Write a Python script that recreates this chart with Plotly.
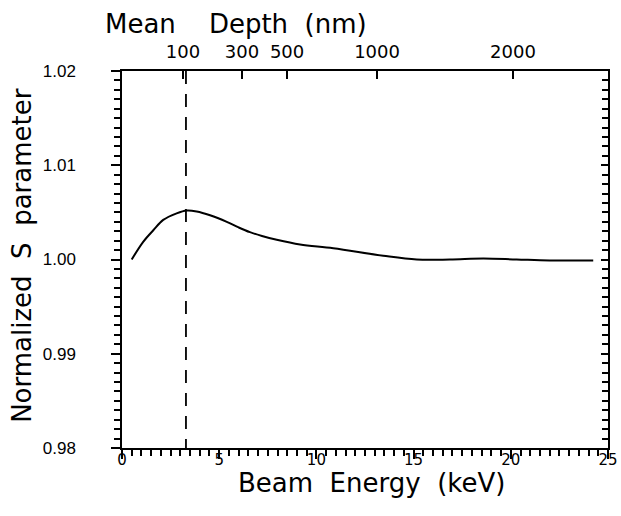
import plotly.graph_objects as go

# ---- data ----
ENERGY_KEV = [0.50, 1.10, 1.61, 2.12, 2.81, 3.33, 3.84, 4.53, 5.39, 6.00, 6.58, 7.20,
              7.96, 9.16, 10.87, 13.44, 15.16, 16.87, 18.59, 20.30, 22.00, 24.24]
S_PARAM = [1.0000, 1.0019, 1.0031, 1.0042, 1.0049, 1.0052, 1.0051, 1.0047, 1.0040,
           1.0034, 1.0029, 1.0025, 1.0021, 1.0016, 1.0012, 1.0004, 1.0000, 1.0000,
           1.0001, 1.0000, 0.9999, 0.9999]

MARKER_ENERGY = 3.29          # dashed vertical line (keV)
DEPTH_TICK_KEV = [3.14, 6.17, 8.49, 13.12, 20.11]
DEPTH_TICK_TEXT = ["100", "300", "500", "1000", "2000"]

X_RANGE = [0, 25]
Y_RANGE = [0.98, 1.02]

NB = "\u00a0"
TITLE_TOP = "Mean" + NB * 3 + " Depth" + NB + " (nm)"
TITLE_X = "Beam" + NB + " Energy" + NB + " (keV)"
TITLE_Y = "Normalized" + NB + " S" + NB + " parameter"

fig = go.Figure()
fig.add_trace(go.Scatter(x=ENERGY_KEV, y=S_PARAM, mode="lines",
                         line=dict(color="black", width=2, shape="spline", smoothing=1.0),
                         showlegend=False, hoverinfo="skip"))
fig.add_trace(go.Scatter(x=[MARKER_ENERGY, MARKER_ENERGY], y=[Y_RANGE[1], Y_RANGE[0]],
                         mode="lines", xaxis="x2", yaxis="y2",
                         line=dict(color="black", width=1.8, dash="13px,10px"),
                         showlegend=False, hoverinfo="skip"))

tick_font = dict(family="DejaVu Sans", size=15, color="black")
title_font = dict(family="DejaVu Sans", size=26, color="black")

fig.update_layout(
    width=621, height=516,
    margin=dict(l=122, r=13, t=71, b=68, autoexpand=False),
    paper_bgcolor="white", plot_bgcolor="white",
    xaxis=dict(range=X_RANGE, dtick=5, tick0=0, showgrid=False, zeroline=False,
               automargin=False,
               showline=True, linecolor="black", linewidth=1.5,
               ticks="outside", ticklen=9, tickwidth=1.5, tickcolor="black",
               minor=dict(dtick=0.5, ticks="outside", ticklen=6, tickwidth=1.5,
                          tickcolor="black"),
               tickfont=tick_font, ticklabelstandoff=-12),
    xaxis2=dict(range=X_RANGE, overlaying="x", side="top", anchor="y",
                automargin=False,
                tickmode="array", tickvals=DEPTH_TICK_KEV, ticktext=DEPTH_TICK_TEXT,
                showgrid=False, zeroline=False, showline=True, linecolor="black",
                linewidth=1.5, ticks="inside", ticklen=8, tickwidth=1.5,
                tickcolor="black", tickfont=dict(family="DejaVu Sans", size=18, color="black"),
                ticklabelstandoff=4),
    yaxis=dict(range=Y_RANGE, dtick=0.01, tick0=0.98, tickformat=".2f",
               automargin=False,
               showgrid=False, zeroline=False, showline=True, linecolor="black",
               linewidth=1.5, ticks="outside", ticklen=9, tickwidth=1.5,
               tickcolor="black",
               minor=dict(dtick=0.001, ticks="outside", ticklen=6, tickwidth=1.5,
                          tickcolor="black"),
               tickfont=dict(family="Liberation Sans", size=17, color="black"),
               ticklabelstandoff=32),
    yaxis2=dict(range=Y_RANGE, overlaying="y", side="right", anchor="x",
                automargin=False,
                dtick=0.01, tick0=0.98, showgrid=False, zeroline=False,
                showline=True, linecolor="black", linewidth=1.5,
                ticks="inside", ticklen=7, tickwidth=1.5, tickcolor="black",
                minor=dict(dtick=0.001, ticks="inside", ticklen=6, tickwidth=1.5,
                           tickcolor="black"),
                showticklabels=False),
    annotations=[
        dict(text=TITLE_TOP, xref="paper", yref="paper", x=-0.039, y=1.124,
             xanchor="left", yanchor="middle", showarrow=False, font=title_font),
        dict(text=TITLE_X, xref="paper", yref="paper", x=0.514, y=-0.092,
             xanchor="center", yanchor="middle", showarrow=False, font=title_font),
        dict(text=TITLE_Y, xref="paper", yref="paper", x=-0.206, y=0.512,
             xanchor="center", yanchor="middle", showarrow=False, font=title_font,
             textangle=-90),
    ],
)

fig.write_html("out.html", config={"displayModeBar": False},
               post_script="document.body.style.margin='0';document.body.style.padding='0';")
